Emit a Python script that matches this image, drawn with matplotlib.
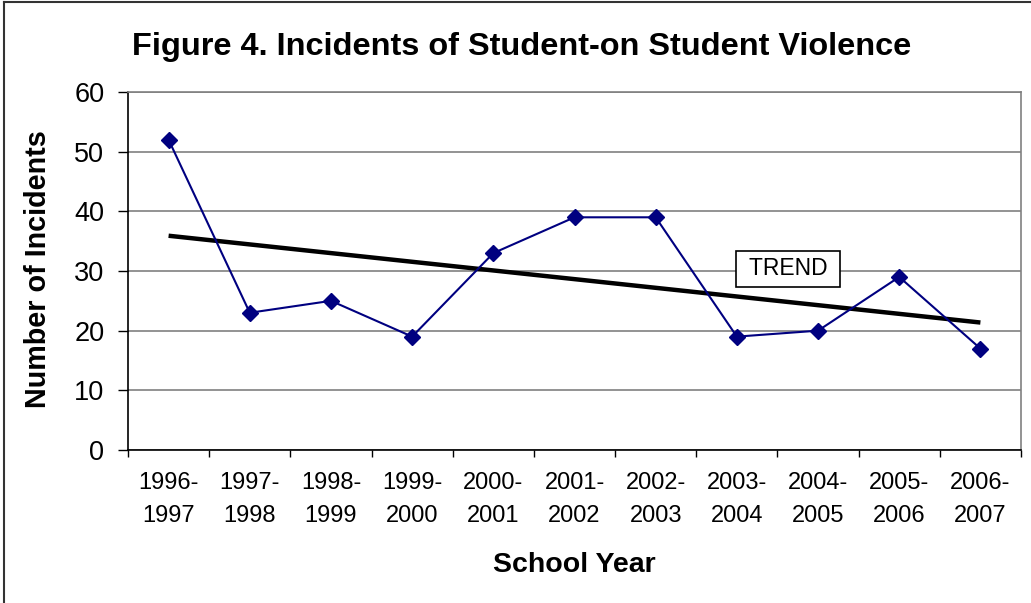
import numpy as np
import matplotlib
matplotlib.use("Agg")
import matplotlib.pyplot as plt
from matplotlib.lines import Line2D

categories = ["1996-\n1997", "1997-\n1998", "1998-\n1999", "1999-\n2000", "2000-\n2001",
              "2001-\n2002", "2002-\n2003", "2003-\n2004", "2004-\n2005", "2005-\n2006",
              "2006-\n2007"]
incidents = [52, 23, 25, 19, 33, 39, 39, 19, 20, 29, 17]
yticks = [0, 10, 20, 30, 40, 50, 60]

plt.rcParams['font.family'] = ['Liberation Sans', 'DejaVu Sans']

W, H = 1031, 603
fig = plt.figure(figsize=(W / 100, H / 100), dpi=100)
ax = fig.add_axes([128 / W, 1 - 450 / H, (1021 - 128) / W, (450 - 92) / H])

x = np.arange(len(categories))
# Trend (linear least squares fit of the data)
coef = np.polyfit(x, incidents, 1)
trend = np.polyval(coef, x)

ax.plot(x, trend, color='black', lw=3.2, solid_capstyle='butt', zorder=3)
ax.plot(x, incidents, color='#000080', lw=1.5, marker='D', ms=8.5,
        markerfacecolor='#000080', markeredgecolor='#000080', zorder=4)

ax.set_xlim(-0.5, len(categories) - 0.5)
ax.set_ylim(0, 60)

ax.set_yticks(yticks)
ax.set_yticklabels([str(v) for v in yticks], fontsize=19.5)
ax.tick_params(axis='y', direction='out', length=7, width=1, pad=10, color='black')

ax.set_xticks(x)
ax.set_xticklabels(categories, fontsize=17, linespacing=1.66)
ax.set_xticks(np.arange(-0.5, len(categories)), minor=True)
ax.tick_params(axis='x', which='major', length=0, pad=16)
ax.tick_params(axis='x', which='minor', direction='out', length=5, width=1, color='black')

ax.yaxis.grid(True, color='#808080', lw=1.2)
ax.set_axisbelow(True)

ax.spines['left'].set_color('black')
ax.spines['bottom'].set_color('black')
ax.spines['top'].set_color('#808080')
ax.spines['right'].set_color('#808080')
for s in ax.spines.values():
    s.set_linewidth(1.2)

ax.text(7.63, 30.35, ' TREND ', fontsize=16.5, ha='center', va='center', zorder=5,
        bbox=dict(boxstyle='square,pad=0.3', facecolor='white', edgecolor='black', lw=1.2))

fig.text(522 / W, 1 - 47 / H, 'Figure 4. Incidents of Student-on Student Violence',
         fontsize=23.4, fontweight='bold', ha='center', va='center')
fig.text(574 / W, 1 - 565 / H, 'School Year', fontsize=20.5, fontweight='bold',
         ha='center', va='center')
fig.text(38 / W, 1 - 269 / H, 'Number of Incidents', fontsize=20.7, fontweight='bold',
         rotation=90, ha='center', va='center')

# Chart frame (left and top edges)
fig.add_artist(Line2D([4 / W, 4 / W], [0, 1 - 2 / H], transform=fig.transFigure,
                      color='#333333', lw=1.5))
fig.add_artist(Line2D([4 / W, 1], [1 - 2 / H, 1 - 2 / H], transform=fig.transFigure,
                      color='#333333', lw=1.5))

fig.savefig('out.png', dpi=100)
